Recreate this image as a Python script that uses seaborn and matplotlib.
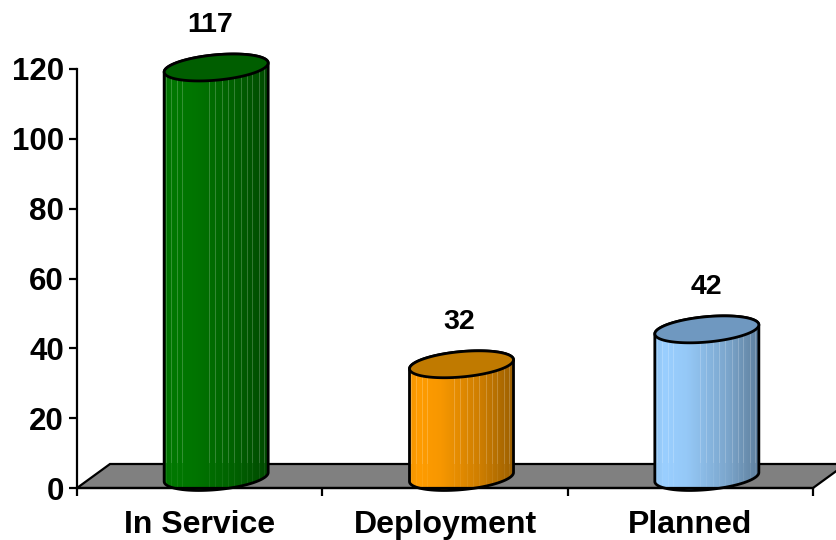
import numpy as np
import pandas as pd
import matplotlib
matplotlib.use("Agg")
import matplotlib.pyplot as plt
from matplotlib.patches import PathPatch, Polygon
from matplotlib.path import Path
from matplotlib.transforms import IdentityTransform
import seaborn as sns

# dados do grafico
categorias = ["In Service", "Deployment", "Planned"]
valores = [117, 32, 42]
yticks = [0, 20, 40, 60, 80, 100, 120]
cores_luz = ["#007800", "#FF9C00", "#9ACFFF"]
cores_topo = ["#005E00", "#C07A00", "#6F98C0"]

# deslocamentos em pixels (efeito 3D)
prof_x, prof_y = 33, 24
cil_x, cil_y_base, cil_y_topo = 16.5, 11, 12
tilt, semi_y = 4.5, 12.7
label_dx = [10, 14, 16]
riscos = [2, 7, 13, 18, 45, 51, 58, 64, 70, 77, 83, 88, 95, 100]

sns.set_theme(style="white")
plt.rcParams["font.family"] = ["Liberation Sans", "DejaVu Sans"]

fig = plt.figure(figsize=(8.36, 5.4), dpi=100)
ax = fig.add_axes([77 / 836, 52 / 540, 736 / 836, 419 / 540])

df = pd.DataFrame({"cat": categorias, "valor": valores})
sns.barplot(data=df, x="cat", y="valor", width=0.424, ax=ax)
ax.set_xlim(-0.5, 2.5)
ax.set_ylim(0, 120)
ax.set_xlabel("")
ax.set_ylabel("")
ax.patch.set_alpha(0)

# eixos
sns.despine(ax=ax)
for lado in ["left", "bottom"]:
    ax.spines[lado].set_linewidth(1.6)
    ax.spines[lado].set_color("black")
    ax.spines[lado].set_zorder(6)
ax.set_yticks(yticks)
ax.set_yticklabels([str(v) for v in yticks], fontsize=22.5, fontweight="bold", color="black")
ax.set_xticks(range(len(categorias)))
ax.set_xticklabels(categorias, fontsize=23, fontweight="bold", color="black")
ax.set_xticks([-0.5, 0.5, 1.5, 2.5], minor=True)
ax.tick_params(axis="y", left=True, length=6, width=1.6, color="black", pad=3.5)
ax.tick_params(axis="x", which="major", bottom=False, length=0, pad=16)
ax.tick_params(axis="x", which="minor", bottom=True, length=6, width=1.6, color="black")

fig.canvas.draw()
pix = IdentityTransform()

# piso cinza
x0, y0 = ax.transData.transform((-0.5, 0))
x1, _ = ax.transData.transform((2.5, 0))
piso = Polygon([(x0, y0), (x1, y0), (x1 + prof_x, y0 + prof_y), (x0 + prof_x, y0 + prof_y)],
               closed=True, facecolor="#808080", edgecolor="black", linewidth=1.6,
               transform=pix, clip_on=False, zorder=1)
ax.add_patch(piso)
y_fundo = y0 + prof_y

t_baixo = np.linspace(np.pi, 2 * np.pi, 60)
t_cima = np.linspace(0, np.pi, 60)

# cilindros a partir das barras do seaborn
for barra, luz, topo in zip(ax.patches[:len(valores)], cores_luz, cores_topo):
    barra.set_visible(False)
    xa, yb = ax.transData.transform((barra.get_x(), 0))
    xb, yt = ax.transData.transform((barra.get_x() + barra.get_width(), barra.get_height()))
    esq, dir_ = xa + cil_x, xb + cil_x
    cx = (esq + dir_) / 2
    a = (dir_ - esq) / 2
    yc_base = yb + cil_y_base
    yc_topo = yt + cil_y_topo

    def elipse(t, yc):
        return np.column_stack([cx + a * np.cos(t), yc + tilt * np.cos(t) + semi_y * np.sin(t)])

    contorno = np.vstack([elipse(t_baixo, yc_base), elipse(t_cima, yc_topo)])
    caminho = Path(np.vstack([contorno, contorno[0]]), closed=True)
    corpo = PathPatch(caminho, facecolor="none", edgecolor="black", linewidth=2,
                      transform=pix, clip_on=False, zorder=4)
    ax.add_patch(corpo)

    # gradiente horizontal com riscos claros
    larg = int(round(dir_ - esq))
    alt_topo = yc_topo + semi_y + tilt + 2
    alt_base = yc_base - semi_y - tilt - 2
    linhas = int(round(alt_topo - alt_base))
    u = np.linspace(0, 1, larg)
    fator = np.interp(u, [0, 0.08, 0.3, 0.7, 1], [0.94, 1.0, 0.97, 0.8, 0.62])
    base = np.array(matplotlib.colors.to_rgb(luz))
    img = np.tile((fator[:, None] * base)[None, :, :], (linhas, 1, 1))
    ys = np.linspace(alt_topo, alt_base, linhas)
    forca = np.where(ys > y_fundo, 0.2, 0.07)[:, None]
    for r in riscos:
        if r < larg:
            img[:, r, :] = img[:, r, :] * (1 - forca) + forca
    im = ax.imshow(img, extent=[esq, esq + larg, alt_base, alt_topo], transform=pix,
                   aspect="auto", interpolation="nearest", zorder=3)
    im.set_clip_path(PathPatch(caminho, transform=pix))
    im.set_clip_box(fig.bbox)

    ax.add_patch(Polygon(elipse(np.linspace(0, 2 * np.pi, 120), yc_topo), closed=True,
                         facecolor=topo, edgecolor="black", linewidth=2,
                         transform=pix, clip_on=False, zorder=5))

ax.set_xlim(-0.5, 2.5)
ax.set_ylim(0, 120)

# rotulos de valor
for i, v in enumerate(valores):
    ax.annotate(str(v), (i, v), xytext=(label_dx[i] * 0.72, 54 * 0.72), textcoords="offset points",
                ha="center", va="center", fontsize=20.5, fontweight="bold", color="black",
                annotation_clip=False)

fig.savefig("out.png", dpi=100)
